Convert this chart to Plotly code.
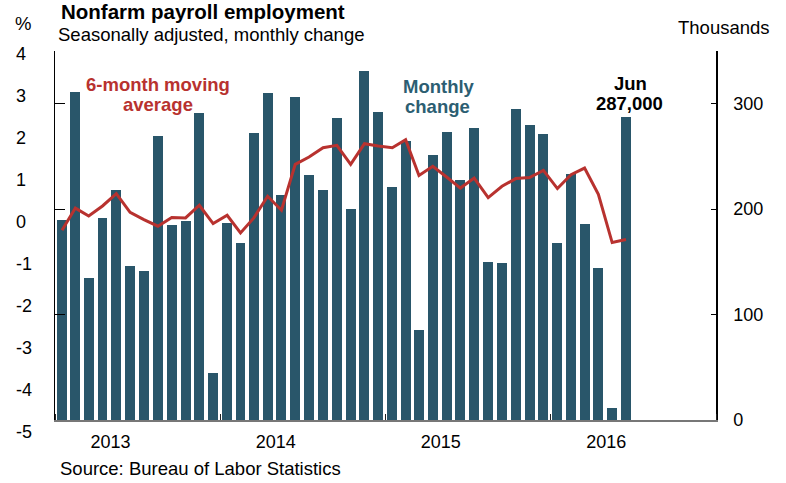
import pandas as pd
import plotly.graph_objects as go

# ---- data ----
months = pd.date_range("2013-01-01", "2016-06-01", freq="MS")
monthly_change = [190, 311, 135, 192, 218, 146, 141, 269, 185, 189, 291, 45,
                  187, 168, 272, 310, 213, 306, 232, 218, 286, 200, 331, 292,
                  221, 265, 85, 251, 273, 228, 277, 150, 149, 295, 280, 271,
                  168, 233, 186, 144, 11, 287]
moving_avg = [180.0, 201.0, 193.5, 203.0, 214.7, 197.0, 190.0, 183.8, 192.0, 191.7, 203.7, 186.3,
              194.2, 177.4, 191.7, 212.2, 199.0, 242.5, 249.4, 258.3, 260.5, 242.5, 262.1, 259.8,
              258.3, 265.9, 232.0, 240.6, 230.5, 220.0, 229.5, 211.0, 221.7, 229.0, 229.9, 236.8,
              219.5, 232.7, 239.0, 214.0, 168.3, 171.2]
right_ticks = [0, 100, 200, 300]
left_labels = [4, 3, 2, 1, 0, -1, -2, -3, -4, -5]

# ---- layout geometry ----
W, H = 786, 483
L, R, T, B = 55, 716, 51, 420
FONT = "Liberation Sans, Arial, sans-serif"
TEAL = "#29566a"
RED = "#b8322f"


def px(xp):
    return (xp - L) / (R - L)


def py(yp):
    return (B - yp) / (B - T)


fig = go.Figure()
fig.add_trace(go.Bar(
    x=months, y=monthly_change, xperiod="M1", xperiodalignment="middle",
    width=22 * 86400000, marker=dict(color=TEAL, line=dict(width=0)),
    yaxis="y", showlegend=False, hoverinfo="x+y"))
fig.add_trace(go.Scatter(
    x=months, y=moving_avg, xperiod="M1", xperiodalignment="middle",
    mode="lines", line=dict(color=RED, width=3), yaxis="y2",
    showlegend=False))

fig.update_layout(
    width=W, height=H,
    margin=dict(l=L, r=W - R, t=T, b=H - B),
    paper_bgcolor="white", plot_bgcolor="white",
    font=dict(family=FONT, size=18, color="black"),
    xaxis=dict(type="date", range=["2013-01-01", "2017-01-01"],
               tick0="2013-01-01", dtick="M12", tickformat="%Y",
               ticklabelmode="period", ticklabelshift=-27,
               ticklabelstandoff=4,
               ticks="inside", ticklen=6, tickcolor="#222", tickwidth=1,
               showline=True, linecolor="#777", linewidth=2,
               showgrid=False, zeroline=False,
               tickfont=dict(size=18)),
    yaxis=dict(range=[0, 350], tickvals=[100, 200, 300], ticks="inside",
               ticklen=10, tickcolor="black", showticklabels=False,
               showline=True, linecolor="black", linewidth=1,
               showgrid=False, zeroline=False),
    yaxis2=dict(range=[0, 350], overlaying="y", side="right",
                tickvals=right_ticks, ticks="inside", ticklen=5,
                tickcolor="black", showline=True, linecolor="black",
                linewidth=1.5, showgrid=False, zeroline=False,
                ticklabelstandoff=12, tickfont=dict(size=18)),
    bargap=0,
)

ann = []
# left-side percent labels (scale: 4 at y=53px, -5 at y=432px)
for v in left_labels:
    ann.append(dict(text=str(v), x=px(14), y=py(222 - 42.1 * v),
                    xref="paper", yref="paper", xanchor="left",
                    yanchor="middle", showarrow=False,
                    font=dict(size=18)))


def text(t, x, y, size=18.5, color="black", bold=False, anchor="left"):
    ann.append(dict(text=f"<b>{t}</b>" if bold else t, x=px(x), y=py(y),
                    xref="paper", yref="paper", xanchor=anchor,
                    yanchor="middle", showarrow=False,
                    font=dict(size=size, color=color, family=FONT)))


text("Nonfarm payroll employment", 59, 11, size=20.5, bold=True)
text("Seasonally adjusted, monthly change", 56, 34, size=18.5)
text("%", 13, 23.5, size=18.5)
text("Thousands", 676, 27.5, size=18.5)
text("6-month moving", 157.5, 85, bold=True, color=RED, anchor="center")
text("average", 158, 104, bold=True, color=RED, anchor="center")
text("Monthly", 438.5, 86.5, bold=True, color="#2c5e72", anchor="center")
text("change", 437.5, 106, bold=True, color="#2c5e72", anchor="center")
text("Jun", 630, 83.5, bold=True, anchor="center")
text("287,000", 629.5, 103, bold=True, anchor="center")
text("Source: Bureau of Labor Statistics", 58, 468, size=18.5)

fig.update_layout(annotations=ann)
fig.write_html("out.html",
               config={"displayModeBar": False},
               post_script="document.body.style.margin='0';"
                           "document.body.style.overflow='hidden';")
